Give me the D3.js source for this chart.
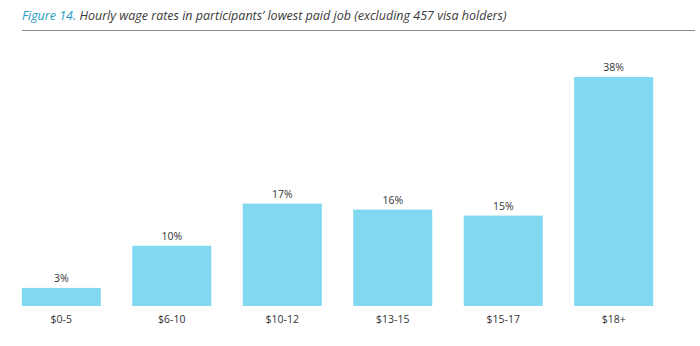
<!DOCTYPE html>
<html>
<head>
<meta charset="utf-8">
<script src="https://cdn.jsdelivr.net/npm/d3@7"></script>
<style>
  html, body { margin: 0; padding: 0; background: #fff; }
  svg { display: block; }
</style>
</head>
<body>
<svg id="chart" width="700" height="346"></svg>
<script>
// Hourly wage bands and share of participants (%)
const categories = ["$0-5", "$6-10", "$10-12", "$13-15", "$15-17", "$18+"];
const shares = [3, 10, 17, 16, 15, 38];

const svg = d3.select("#chart");
const font = "'Open Sans', 'Noto Sans', sans-serif";

// Title
const title = svg.append("text")
  .attr("x", 22).attr("y", 20)
  .attr("font-family", font)
  .attr("font-style", "italic")
  .attr("font-size", 12.5);
title.append("tspan").attr("fill", "#1f9dc3").text("Figure 14.");
title.append("tspan").attr("fill", "#3a3a3a").text(" Hourly wage rates in participants\u2019 lowest paid job (excluding 457 visa holders)");

svg.append("line")
  .attr("x1", 22).attr("x2", 695)
  .attr("y1", 30.5).attr("y2", 30.5)
  .attr("stroke", "#8a8a8a").attr("stroke-width", 1);

const x = d3.scaleBand()
  .domain(categories)
  .range([6, 669])
  .paddingInner(0.285)
  .paddingOuter(0.143);

const y = d3.scaleLinear()
  .domain([0, 38])
  .range([306, 77]);

const data = categories.map((c, i) => ({ c, v: shares[i] }));

svg.append("g").selectAll("rect")
  .data(data)
  .join("rect")
  .attr("x", d => x(d.c))
  .attr("width", x.bandwidth())
  .attr("y", d => y(d.v))
  .attr("height", d => y(0) - y(d.v))
  .attr("fill", "#80d9f0");

svg.append("g").selectAll("text")
  .data(data)
  .join("text")
  .attr("x", d => x(d.c) + x.bandwidth() / 2)
  .attr("y", d => y(d.v) - 6)
  .attr("text-anchor", "middle")
  .attr("font-family", font)
  .attr("font-size", 10.5)
  .attr("fill", "#333")
  .text(d => d.v + "%");

// Category axis (labels only)
const axis = svg.append("g")
  .attr("transform", "translate(0,306)")
  .call(d3.axisBottom(x).tickSize(0).tickPadding(10));
axis.select(".domain").remove();
axis.selectAll("text")
  .attr("font-family", font)
  .attr("font-size", 10.5)
  .attr("fill", "#333");
</script>
</body>
</html>
